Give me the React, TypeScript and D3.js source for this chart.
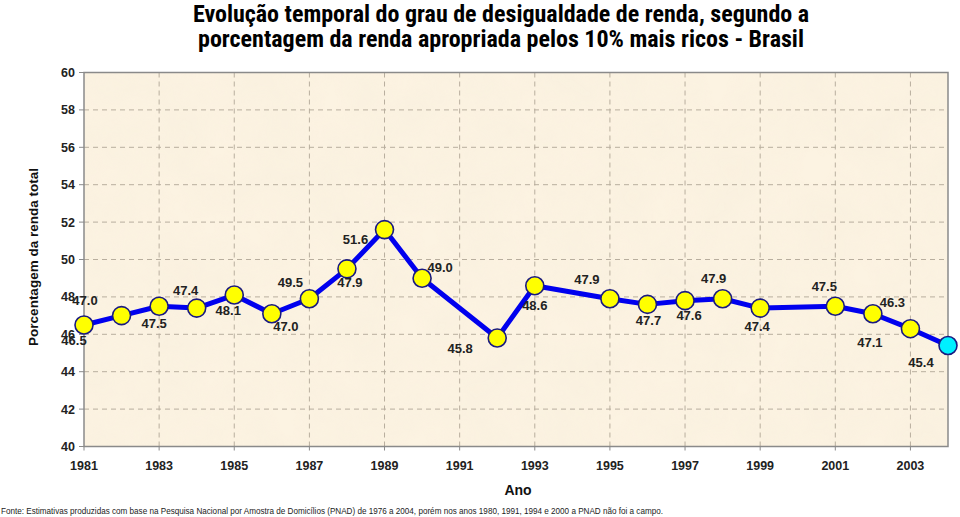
import React from "react";
import * as d3 from "d3";

const years = [1981, 1982, 1983, 1984, 1985, 1986, 1987, 1988, 1989, 1990, 1992, 1993, 1995, 1996, 1997, 1998, 1999, 2001, 2002, 2003, 2004];
const values = [46.5, 47.0, 47.5, 47.4, 48.1, 47.1, 47.9, 49.5, 51.6, 49.0, 45.8, 48.6, 47.9, 47.6, 47.8, 47.9, 47.4, 47.5, 47.1, 46.3, 45.4];

// data labels as printed in the source, attached to the point index they sit next to
const labelTexts = ["46.5", "47.0", "47.5", "47.4", "48.1", "47.0", "49.5", "47.9", "51.6", "49.0", "45.8", "48.6", "47.9", "47.7", "47.6", "47.9", "47.4", "47.5", "47.1", "46.3", "45.4"];
const labelPoint = [0, 0, 2, 3, 4, 5, 6, 7, 8, 9, 10, 11, 12, 13, 14, 15, 16, 17, 18, 19, 20];
const labelOffset: [number, number][] = [
  [-10, 15], [1, -25], [-5, 17], [-11, -18], [-6, 15], [14, 12], [-19, -17], [3, 13], [-29, 9], [18, -11],
  [-37, 10], [0, 19], [-23, -20], [1, 16], [4, 14], [-9, -21], [-3, 18], [-11, -20], [-3, 28], [-18, -27], [-27, 16],
];

const yTicks = [40, 42, 44, 46, 48, 50, 52, 54, 56, 58, 60];
const xTicks = [1981, 1983, 1985, 1987, 1989, 1991, 1993, 1995, 1997, 1999, 2001, 2003];

const titleLines = [
  "Evolução temporal do grau de desigualdade de renda, segundo a",
  "porcentagem da renda apropriada pelos 10% mais ricos - Brasil",
];
const yLabel = "Porcentagem da renda total";
const xLabel = "Ano";
const footnote =
  "Fonte: Estimativas produzidas com base na Pesquisa Nacional por Amostra de Domicílios (PNAD) de 1976 a 2004, porém nos anos 1980, 1991, 1994 e 2000 a PNAD não foi a campo.";

const W = 960;
const H = 517;
const L = 84, R = 948, T = 72.5, B = 446.5;

export default function App() {
  const x = d3.scaleLinear().domain([1981, 2004]).range([L, R]);
  const y = d3.scaleLinear().domain([40, 60]).range([B, T]);
  const pts = years.map((yr, i) => ({ yr, v: values[i] }));
  const line = d3.line<{ yr: number; v: number }>().x((d) => x(d.yr)).y((d) => y(d.v));
  const arial = "Arial, 'Liberation Sans', Helvetica, sans-serif";
  const narrow = "'Liberation Sans Narrow', 'Arial Narrow', 'Roboto Condensed', Arial, sans-serif";

  return (
    <svg width={W} height={H} style={{ position: "absolute", left: 0, top: 0, display: "block", background: "#fff" }}>
      <defs>
        <filter id="paper" x="0" y="0" width="100%" height="100%">
          <feTurbulence type="fractalNoise" baseFrequency="0.02" numOctaves="4" seed="3" result="n" />
          <feColorMatrix
            in="n"
            type="matrix"
            values="0 0 0 0 0.92  0 0 0 0 0.84  0 0 0 0 0.70  0 0 0 -1.3 1.0"
          />
        </filter>
        <clipPath id="plotclip">
          <rect x={L} y={T} width={R - L} height={B - T} />
        </clipPath>
      </defs>

      {/* title */}
      {titleLines.map((t, i) => (
        <text key={i} x={501} y={22 + i * 25} textAnchor="middle" fontFamily={narrow} fontWeight="bold" fontSize={24} fill="#000">
          {t}
        </text>
      ))}

      {/* plot background */}
      <rect x={L} y={T} width={R - L} height={B - T} fill="#fcf3e2" />
      <rect x={L} y={T} width={R - L} height={B - T} fill="#fff" filter="url(#paper)" opacity={0.35} clipPath="url(#plotclip)" />

      {/* grid */}
      {yTicks.slice(1, -1).map((t) => (
        <line key={"gy" + t} x1={L} x2={R} y1={y(t)} y2={y(t)} stroke="#b8ae9e" strokeWidth={1} strokeDasharray="5,4" />
      ))}
      {xTicks.slice(1).map((t) => (
        <line key={"gx" + t} x1={x(t)} x2={x(t)} y1={T} y2={B} stroke="#b8ae9e" strokeWidth={1} strokeDasharray="5,4" />
      ))}

      {/* frame */}
      <rect x={L} y={T} width={R - L} height={B - T} fill="none" stroke="#8a8a8a" strokeWidth={1.5} />

      {/* y axis ticks */}
      {yTicks.map((t) => (
        <g key={"yt" + t}>
          <line x1={L - 5} x2={L} y1={y(t)} y2={y(t)} stroke="#8a8a8a" strokeWidth={1} />
          <text x={75} y={y(t) + 4.5} textAnchor="end" fontFamily={arial} fontWeight="bold" fontSize={12.5} fill="#222">
            {t}
          </text>
        </g>
      ))}

      {/* x axis ticks */}
      {xTicks.map((t) => (
        <g key={"xt" + t}>
          <line x1={x(t)} x2={x(t)} y1={B} y2={B + 4} stroke="#8a8a8a" strokeWidth={1} />
          <text x={x(t)} y={470} textAnchor="middle" fontFamily={arial} fontWeight="bold" fontSize={12.5} fill="#222">
            {t}
          </text>
        </g>
      ))}

      {/* axis titles */}
      <text
        transform={`translate(38,${257}) rotate(-90)`}
        textAnchor="middle"
        fontFamily={arial}
        fontWeight="bold"
        fontSize={13.5}
        fill="#111"
      >
        {yLabel}
      </text>
      <text x={518} y={495} textAnchor="middle" fontFamily={arial} fontWeight="bold" fontSize={14} fill="#111">
        {xLabel}
      </text>

      {/* series */}
      <path d={line(pts) || ""} fill="none" stroke="#0000ee" strokeWidth={5} strokeLinejoin="round" />
      {pts.map((p, i) => (
        <circle
          key={"p" + i}
          cx={x(p.yr)}
          cy={y(p.v)}
          r={9}
          fill={i === pts.length - 1 ? "#00f0ff" : "#ffff00"}
          stroke="#1a1a80"
          strokeWidth={1.6}
        />
      ))}

      {/* data labels */}
      {labelTexts.map((t, i) => {
        const p = pts[labelPoint[i]];
        const [dx, dy] = labelOffset[i];
        return (
          <text
            key={"l" + i}
            x={x(p.yr) + dx}
            y={y(p.v) + dy + 5}
            textAnchor="middle"
            fontFamily={arial}
            fontWeight="bold"
            fontSize={13}
            fill="#222"
          >
            {t}
          </text>
        );
      })}

      {/* footnote */}
      <text x={1} y={514} fontFamily={arial} fontSize={9} fill="#222" textLength={662} lengthAdjust="spacingAndGlyphs">
        {footnote}
      </text>
    </svg>
  );
}
